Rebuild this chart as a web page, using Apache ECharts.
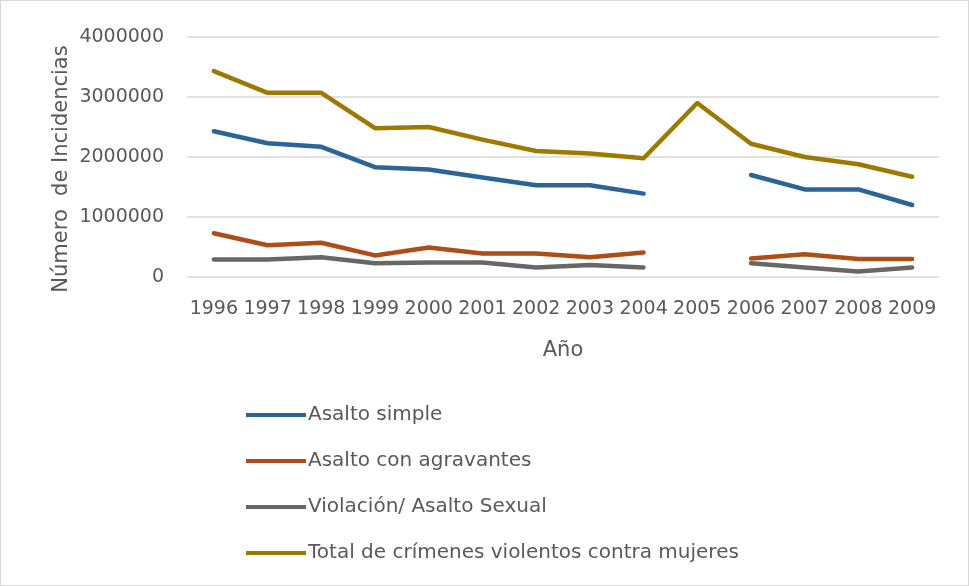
<!DOCTYPE html>
<html>
<head>
<meta charset="utf-8">
<script src="https://cdn.jsdelivr.net/npm/echarts@6/dist/echarts.min.js"></script>
<style>
  html, body { margin: 0; padding: 0; background: #fff; }
  #chart { width: 967px; height: 584px; border: 1px solid #d9d9d9; }
</style>
</head>
<body>
<div id="chart"></div>
<script>
// años
const years = ['1996','1997','1998','1999','2000','2001','2002','2003','2004','2005','2006','2007','2008','2009'];
// valores (2005 sin dato en tres series)
const asaltoSimple = [2430000, 2230000, 2170000, 1830000, 1790000, 1660000, 1530000, 1530000, 1390000, null, 1700000, 1460000, 1460000, 1200000];
const asaltoAgravantes = [730000, 530000, 570000, 360000, 490000, 390000, 390000, 330000, 410000, null, 310000, 380000, 300000, 300000];
const violacion = [290000, 290000, 330000, 230000, 240000, 240000, 160000, 200000, 160000, null, 230000, 160000, 90000, 160000];
const totalMujeres = [3430000, 3070000, 3070000, 2480000, 2500000, 2290000, 2100000, 2060000, 1980000, 2900000, 2220000, 2000000, 1880000, 1670000];
const yTicks = [0, 1000000, 2000000, 3000000, 4000000];

const font = 'DejaVu Sans';
const txt = '#595959';

let myChart = echarts.init(document.getElementById('chart'));

function serie(name, data, color) {
  return {
    name: name,
    type: 'line',
    data: data,
    connectNulls: false,
    showSymbol: false,
    symbol: 'none',
    lineStyle: { width: 4.5, color: color, cap: 'round', join: 'round' },
    itemStyle: { color: color },
    emphasis: { disabled: true }
  };
}

var option = {
  animation: false,
  textStyle: { fontFamily: font },
  grid: { left: 186, top: 36, width: 752, height: 240, containLabel: false },
  legend: {
    orient: 'vertical',
    left: 245,
    top: 404,
    padding: 0,
    itemWidth: 60,
    itemHeight: 4,
    itemGap: 26,
    icon: 'rect',
    textStyle: { color: txt, fontSize: 20, fontFamily: font, padding: [0, 0, 0, -3] },
    data: ['Asalto simple', 'Asalto con agravantes', 'Violación/ Asalto Sexual', 'Total de crímenes violentos contra mujeres']
  },
  xAxis: {
    type: 'category',
    data: years,
    boundaryGap: true,
    name: 'Año',
    nameLocation: 'middle',
    nameGap: 63,
    nameTextStyle: { color: txt, fontSize: 21, fontFamily: font },
    axisLine: { show: false },
    axisTick: { show: false },
    axisLabel: { color: txt, fontSize: 19, fontFamily: font, margin: 23, interval: 0 }
  },
  yAxis: {
    type: 'value',
    min: yTicks[0],
    max: yTicks[yTicks.length - 1],
    interval: 1000000,
    axisLine: { show: false },
    axisTick: { show: false },
    axisLabel: { color: txt, fontSize: 19, fontFamily: font, margin: 23, formatter: v => String(v) },
    splitLine: { lineStyle: { color: '#d9d9d9', width: 1.5 } }
  },
  graphic: [{
    type: 'text',
    x: 61,
    y: 168,
    rotation: Math.PI / 2,
    style: {
      text: 'Número  de Incidencias',
      fill: txt,
      font: '21px "' + font + '"',
      align: 'center',
      verticalAlign: 'middle'
    }
  }],
  series: [
    serie('Asalto simple', asaltoSimple, '#2b6496'),
    serie('Asalto con agravantes', asaltoAgravantes, '#ae4e16'),
    serie('Violación/ Asalto Sexual', violacion, '#676767'),
    serie('Total de crímenes violentos contra mujeres', totalMujeres, '#9d7900')
  ]
};
myChart.setOption(option);
</script>
</body>
</html>
